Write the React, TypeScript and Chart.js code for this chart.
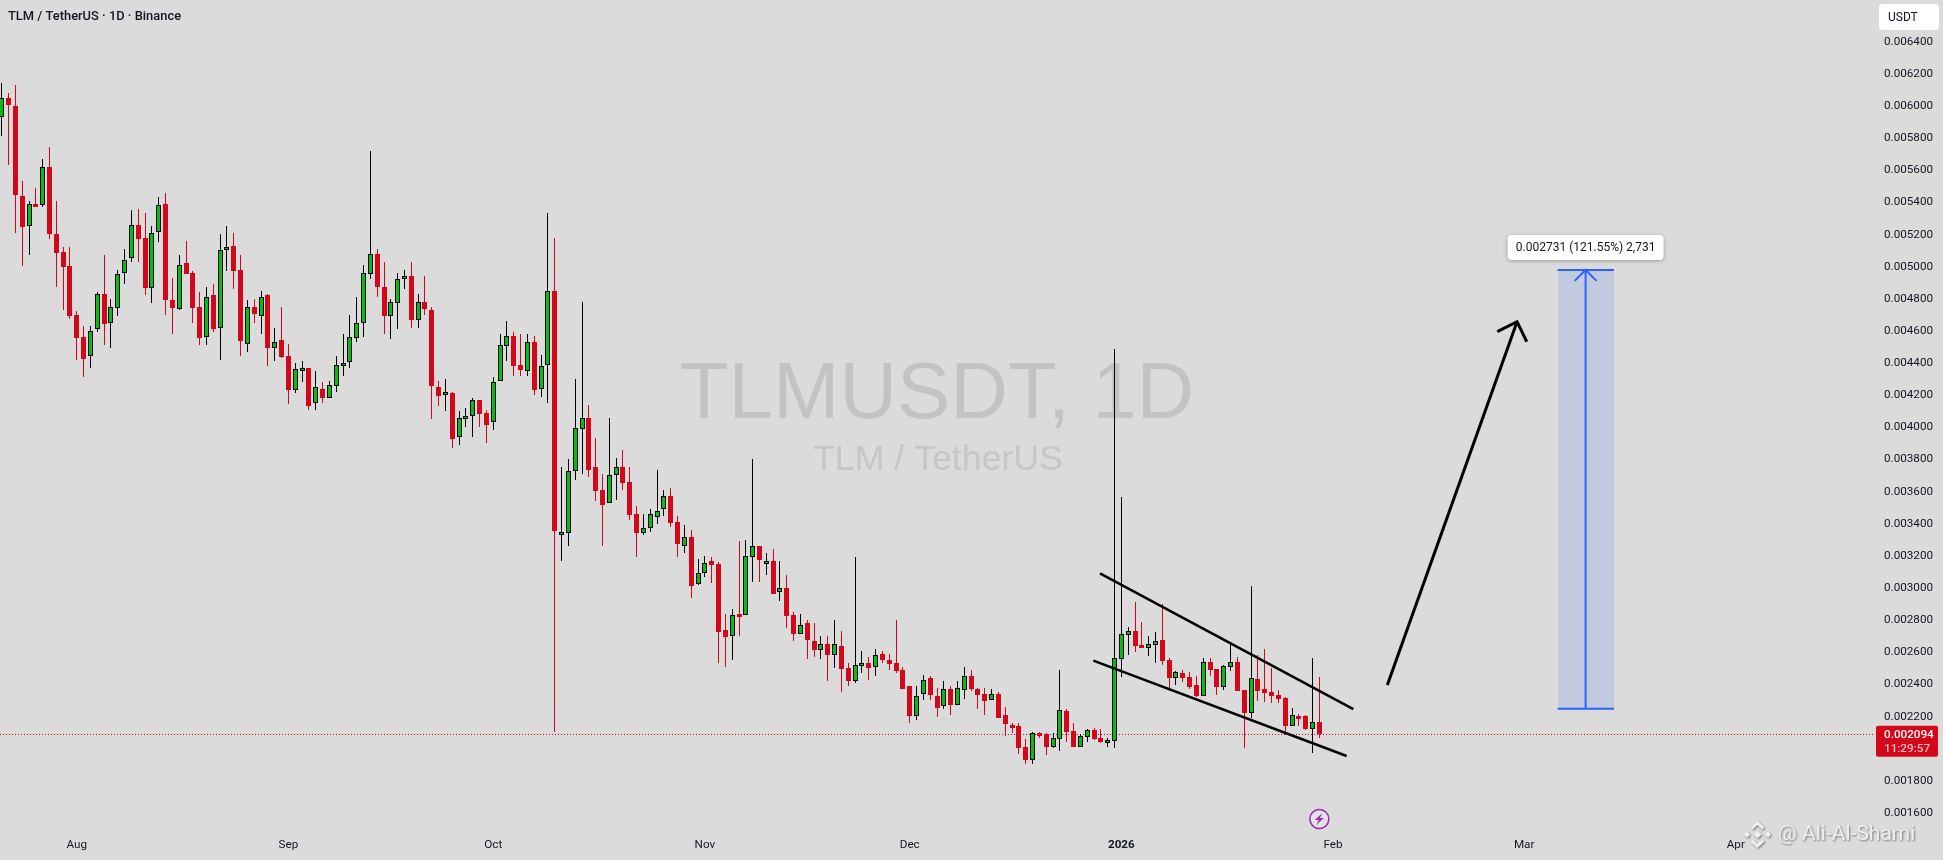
import React, { useEffect, useRef } from "react";
import { Chart, registerables } from "chart.js";

Chart.register(...registerables);

// All prices are in millionths of a USDT (0.002094 USDT = 2094).
const opens = [
  5930,6050,6001,5440,5252,5391,5386,5621,5204,5092,
  5005,4700,4563,4442,4610,4830,4648,4741,4959,5052,
  5260,5179,4870,5218,5391,4791,4739,5021,4959,4747,
  4561,4822,4617,5102,5129,4980,4517,4749,4695,4824,
  4492,4544,4444,4235,4359,4370,4151,4239,4185,4259,
  4384,4409,4558,4648,4952,5079,4874,4695,4772,4921,
  4942,4670,4780,4730,4251,4216,4212,3938,4056,4069,
  4170,4087,4031,4286,4508,4569,4388,4349,4531,4237,
  4386,4849,3342,3340,3726,3987,4058,3753,3610,3527,
  3701,3753,3660,3460,3344,3375,3444,3494,3572,3411,
  3263,3317,3027,3091,3168,3149,2739,2703,2838,2834,
  3195,3261,3162,3168,2977,3000,2832,2716,2782,2670,
  2616,2651,2585,2639,2502,2423,2516,2533,2506,2589,
  2552,2533,2490,2390,2205,2338,2440,2328,2268,2371,
  2274,2367,2452,2371,2340,2305,2340,2210,2147,2141,
  2010,1932,2100,2091,2010,2062,2232,2110,2012,2075,
  2116,2066,2037,2050,2560,2710,2733,2646,2629,2648,
  2677,2552,2443,2472,2447,2397,2330,2540,2496,2386,
  2511,2540,2366,2225,2434,2372,2353,2335,2316,2144,
  2206,2204,2121,2167,
];
const highs = [
  6142,6084,6131,5532,5407,5490,5671,5743,5409,5123,
  5123,4722,4631,4631,4841,5071,4797,4978,5108,5351,
  5359,5332,5252,5432,5457,4928,5071,5158,4973,4841,
  4872,4893,5204,5252,5210,5071,4791,4799,4847,4830,
  4619,4749,4519,4401,4413,4370,4349,4282,4286,4444,
  4581,4699,4811,5011,5720,5110,5029,4799,4959,4979,
  5029,4830,4942,4747,4289,4301,4220,4102,4118,4183,
  4170,4108,4313,4581,4662,4594,4581,4581,4569,4450,
  5334,5178,3753,3801,4299,4778,4137,3931,3709,4058,
  3809,3859,3753,3510,3458,3491,3738,3610,3622,3448,
  3392,3361,3180,3199,3193,3160,2838,2869,3293,3299,
  3801,3261,3218,3243,3168,3081,2851,2838,2801,2782,
  2701,2701,2801,2732,2533,3193,2608,2570,2620,2608,
  2589,2801,2508,2390,2390,2459,2452,2378,2421,2390,
  2421,2508,2490,2378,2378,2371,2353,2259,2160,2160,
  2060,2104,2104,2098,2098,2490,2247,2160,2089,2122,
  2129,2122,2066,4486,3567,2758,2914,2789,2702,2727,
  2901,2565,2484,2490,2478,2453,2565,2565,2496,2521,
  2652,2571,2366,3013,2584,2621,2503,2366,2322,2254,
  2216,2210,2565,2447,
];
const lows = [
  5814,5633,5212,5007,5073,5372,5374,5173,4876,4731,
  4675,4419,4316,4372,4596,4513,4496,4695,4895,5032,
  5032,4824,4776,5156,4700,4581,4733,4957,4650,4513,
  4513,4594,4419,4973,4861,4444,4469,4650,4581,4382,
  4413,4432,4146,4216,4285,4108,4108,4152,4185,4220,
  4320,4369,4531,4562,4923,4811,4581,4550,4612,4863,
  4618,4618,4699,4052,4135,4102,3873,3892,4004,3942,
  4004,3905,3986,4286,4415,4320,4320,4320,4201,4191,
  4152,2104,3170,3263,3674,3709,3693,3543,3263,3527,
  3550,3610,3425,3195,3330,3348,3398,3448,3381,3193,
  3220,2937,3020,3068,3031,2535,2508,2552,2701,2834,
  3039,3039,3081,2965,2919,2751,2670,2716,2558,2570,
  2558,2421,2502,2353,2390,2409,2471,2427,2452,2533,
  2490,2471,2371,2160,2178,2303,2303,2197,2247,2210,
  2274,2309,2359,2247,2210,2305,2191,2079,2098,1967,
  1905,1905,2066,1961,2004,1986,2042,2010,2012,2044,
  2054,2035,2010,2004,2446,2584,2602,2627,2577,2534,
  2521,2366,2397,2416,2372,2322,2330,2453,2335,2366,
  2484,2360,2005,2192,2297,2291,2285,2285,2086,2144,
  2142,2117,1974,2067,
];
const closes = [
  6048,6009,5449,5250,5389,5378,5619,5206,5088,5000,
  4695,4559,4428,4598,4828,4646,4747,4953,5040,5258,
  5175,4870,5208,5382,4795,4745,5009,4957,4745,4559,
  4810,4615,5102,5121,4976,4540,4747,4708,4810,4496,
  4529,4440,4235,4361,4368,4133,4250,4185,4262,4386,
  4398,4560,4648,4959,5077,4876,4695,4778,4921,4940,
  4670,4778,4739,4259,4197,4220,3930,4056,4069,4168,
  4085,4017,4280,4510,4567,4384,4357,4529,4232,4380,
  4847,3355,3348,3726,3999,4056,3736,3606,3518,3701,
  3751,3655,3456,3344,3371,3458,3477,3570,3406,3276,
  3315,3014,3091,3159,3145,2728,2697,2830,2828,3197,
  3259,3176,3168,2965,2998,2828,2716,2768,2676,2616,
  2649,2583,2649,2498,2423,2519,2531,2502,2581,2552,
  2527,2484,2371,2205,2326,2425,2334,2255,2369,2272,
  2376,2450,2371,2334,2297,2338,2191,2154,2135,2004,
  1929,2096,2091,2010,2064,2239,2104,2010,2077,2114,
  2058,2044,2052,2562,2712,2731,2640,2627,2650,2669,
  2546,2440,2476,2440,2384,2328,2538,2490,2384,2513,
  2538,2360,2223,2438,2360,2347,2328,2310,2142,2208,
  2200,2123,2164,2094,
];

const priceTicks = [
  1600,1800,2000,2200,2400,2600,2800,3000,3200,3400,3600,3800,4000,
  4200,4400,4600,4800,5000,5200,5400,5600,5800,6000,6200,6400,
];
const monthDays = [11, 42, 72, 103, 133, 164, 195, 223, 254];
const monthNames = ["Aug", "Sep", "Oct", "Nov", "Dec", "2026", "Feb", "Mar", "Apr"];

const lastPrice = 2094;
const upperChannel = [{ x: 160.87, y: 3092 }, { x: 197.98, y: 2247 }];
const lowerChannel = [{ x: 159.9, y: 2548 }, { x: 197.0, y: 1955 }];
const bigArrowShaft = [{ x: 202.96, y: 2397 }, { x: 221.96, y: 4658 }];
const bigArrowHead = [{ x: 219.07, y: 4596 }, { x: 221.96, y: 4658 }, { x: 223.38, y: 4533 }];
const targetTop = [{ x: 227.9, y: 4980 }, { x: 236.16, y: 4980 }];
const targetBottom = [{ x: 227.9, y: 2249 }, { x: 236.16, y: 2249 }];
const targetStem = [{ x: 232, y: 2249 }, { x: 232, y: 4980 }];
const targetHead = [{ x: 230.4, y: 4912 }, { x: 232, y: 4980 }, { x: 233.6, y: 4912 }];
const targetLabel = "0.002731 (121.55%) 2,731";

const BG = "#dbdbdb";
const UP = "#05be10";
const DOWN = "#d2081a";
const BLUE = "#2962ff";
const INK = "#131722";
const FONT = "Roboto, 'Liberation Sans', sans-serif";

const isUp = (i: number) => closes[i] >= opens[i];

const roundBox = (ctx: any, x: number, y: number, w: number, h: number, r: number) => {
  ctx.beginPath();
  ctx.roundRect(x, y, w, h, r);
};

const diamond = (ctx: any, cx: number, cy: number, r: number) => {
  ctx.beginPath();
  ctx.moveTo(cx, cy - r);
  ctx.lineTo(cx + r, cy);
  ctx.lineTo(cx, cy + r);
  ctx.lineTo(cx - r, cy);
  ctx.closePath();
  ctx.fill();
};

const overlay = {
  id: "overlay",
  beforeDraw(chart: any) {
    const { ctx, width, height } = chart;
    ctx.save();
    ctx.fillStyle = BG;
    ctx.fillRect(0, 0, width, height);
    ctx.restore();
  },
  afterDatasetsUpdate(chart: any) {
    chart.data.datasets.forEach((ds: any, idx: number) => {
      if (ds.label !== "Body" && ds.label !== "Wick") return;
      chart.getDatasetMeta(idx).data.forEach((el: any) => {
        el.x = Math.floor(el.x) + 0.5;
        el.y = Math.round(el.y);
        el.base = Math.round(el.base);
        if (ds.label === "Body" && Math.abs(el.base - el.y) < 3) el.base = el.y + 3;
      });
    });
  },
  beforeDatasetsDraw(chart: any) {
    const { ctx, scales, chartArea } = chart;
    ctx.save();
    ctx.textAlign = "center";
    ctx.textBaseline = "alphabetic";
    ctx.fillStyle = "#c3c3c5";
    ctx.font = "79.8px 'Liberation Sans', Arial, sans-serif";
    ctx.fillText("TLMUSDT, 1D", 937, 418);
    ctx.font = "35.7px 'Liberation Sans', Arial, sans-serif";
    ctx.fillStyle = "#c6c6c8";
    ctx.fillText("TLM / TetherUS", 938, 470);

    const y = Math.round(scales.y.getPixelForValue(lastPrice)) + 0.5;
    ctx.strokeStyle = DOWN;
    ctx.lineWidth = 1;
    ctx.setLineDash([1, 2]);
    ctx.beginPath();
    ctx.moveTo(chartArea.left, y);
    ctx.lineTo(chartArea.right, y);
    ctx.stroke();
    ctx.restore();
  },
  afterDatasetsDraw(chart: any) {
    const { ctx, scales } = chart;
    ctx.save();
    ctx.textBaseline = "middle";

    // Header
    ctx.fillStyle = INK;
    ctx.textAlign = "left";
    ctx.font = `500 12.9px ${FONT}`;
    ctx.fillText("TLM / TetherUS · 1D · Binance", 8, 16.5);

    // Measure label
    const cx = scales.x.getPixelForValue(232);
    const top = scales.y.getPixelForValue(4980);
    ctx.save();
    ctx.shadowColor = "rgba(0,0,0,0.3)";
    ctx.shadowBlur = 4;
    ctx.shadowOffsetY = 1;
    ctx.fillStyle = "#ffffff";
    roundBox(ctx, cx - 78, top - 35, 156, 25, 4);
    ctx.fill();
    ctx.restore();
    ctx.fillStyle = INK;
    ctx.textAlign = "center";
    ctx.font = `12px ${FONT}`;
    ctx.fillText(targetLabel, cx, top - 22);

    // Currency box
    ctx.fillStyle = "#ffffff";
    roundBox(ctx, 1879, 4, 60, 26, 4);
    ctx.fill();
    ctx.fillStyle = INK;
    ctx.textAlign = "left";
    ctx.font = `12px ${FONT}`;
    ctx.fillText("USDT", 1888, 18);

    // Last price tag
    const py = scales.y.getPixelForValue(lastPrice);
    ctx.fillStyle = DOWN;
    roundBox(ctx, 1876, py - 8, 62, 31, 2);
    ctx.fill();
    ctx.fillStyle = "#ffffff";
    ctx.font = `500 11.7px ${FONT}`;
    ctx.fillText("0.002094", 1884, py + 1.5);
    ctx.fillStyle = "rgba(255,255,255,0.72)";
    ctx.font = `500 11.7px ${FONT}`;
    ctx.fillText("11:29:57", 1884, py + 15.5);

    // Purple lightning badge
    const bx = scales.x.getPixelForValue(193);
    const by = 819;
    ctx.strokeStyle = "#9c27b0";
    ctx.lineWidth = 1.5;
    ctx.fillStyle = "#e6e0e8";
    ctx.beginPath();
    ctx.arc(bx, by, 9.5, 0, Math.PI * 2);
    ctx.fill();
    ctx.stroke();
    ctx.fillStyle = "#9c27b0";
    ctx.beginPath();
    ctx.moveTo(bx + 3, by - 6);
    ctx.lineTo(bx - 4.5, by + 1);
    ctx.lineTo(bx - 0.5, by + 1);
    ctx.lineTo(bx - 3, by + 6);
    ctx.lineTo(bx + 4.5, by - 1);
    ctx.lineTo(bx + 0.5, by - 1);
    ctx.closePath();
    ctx.fill();

    // Author mark
    ctx.save();
    ctx.shadowColor = "rgba(0,0,0,0.45)";
    ctx.shadowBlur = 2;
    ctx.shadowOffsetX = 1;
    ctx.shadowOffsetY = 1;
    ctx.fillStyle = "#efefef";
    const lx = 1757.5;
    const ly = 834.5;
    diamond(ctx, lx, ly, 4);
    diamond(ctx, lx - 10.5, ly, 3.2);
    diamond(ctx, lx + 10.5, ly, 3.2);
    ctx.strokeStyle = "#efefef";
    ctx.lineWidth = 3;
    ctx.beginPath();
    ctx.moveTo(lx - 6, ly - 6);
    ctx.lineTo(lx, ly - 11.5);
    ctx.lineTo(lx + 6, ly - 6);
    ctx.moveTo(lx - 6, ly + 6);
    ctx.lineTo(lx, ly + 11.5);
    ctx.lineTo(lx + 6, ly + 6);
    ctx.stroke();
    ctx.font = `21px ${FONT}`;
    ctx.textAlign = "left";
    ctx.fillText("@ Ali-Al-Shami", 1778, 834.5);
    ctx.restore();

    ctx.restore();
  },
};

const lineSet = (label: string, data: any[], color: string, width: number, extra: any = {}) => ({
  type: "line",
  label,
  data,
  borderColor: color,
  borderWidth: width,
  pointRadius: 0,
  fill: false,
  ...extra,
});

const clearAxisPadding = (scale: any) => {
  scale.paddingTop = 0;
  scale.paddingBottom = 0;
  scale.paddingLeft = 0;
  scale.paddingRight = 0;
};

export default function App() {
  const ref = useRef<HTMLCanvasElement>(null);

  useEffect(() => {
    const candleIndex = opens.map((_, i) => i);
    const chart = new Chart(ref.current as any, {
      type: "bar",
      data: {
        datasets: [
          lineSet("Upper channel", upperChannel, "#000000", 2.5),
          lineSet("Lower channel", lowerChannel, "#000000", 2.5),
          lineSet("Arrow shaft", bigArrowShaft, "#000000", 3),
          lineSet("Arrow head", bigArrowHead, "#000000", 3),
          lineSet("Target top", targetTop, BLUE, 2),
          lineSet("Target bottom", targetBottom, BLUE, 2),
          lineSet("Target stem", targetStem, BLUE, 2),
          lineSet("Target head", targetHead, BLUE, 2),
          lineSet("Target box", targetTop, "rgba(0,0,0,0)", 0, {
            fill: { value: targetBottom[0].y },
            backgroundColor: "rgba(41,98,255,0.14)",
          }),
          {
            label: "Body",
            data: candleIndex.map((i) => ({ x: i, y: [opens[i], closes[i]] })),
            backgroundColor: candleIndex.map((i) => (isUp(i) ? UP : DOWN)),
            borderColor: candleIndex.map((i) => (isUp(i) ? "#000000" : DOWN)),
            borderWidth: 1,
            borderSkipped: false,
            inflateAmount: 0,
            grouped: false,
            barPercentage: 1,
            categoryPercentage: 1,
            maxBarThickness: 5,
          },
          {
            label: "Wick",
            data: candleIndex.map((i) => ({ x: i, y: [lows[i], highs[i]] })),
            backgroundColor: candleIndex.map((i) => (isUp(i) ? "#000000" : DOWN)),
            borderWidth: 0,
            borderSkipped: false,
            inflateAmount: 0,
            grouped: false,
            barPercentage: 1,
            categoryPercentage: 1,
            maxBarThickness: 1,
          },
        ] as any,
      },
      options: {
        animation: false,
        responsive: false,
        devicePixelRatio: 1,
        layout: { padding: 0 },
        events: [],
        plugins: {
          legend: { display: false },
          tooltip: { enabled: false },
          title: { display: false },
        },
        scales: {
          x: {
            type: "linear",
            min: -0.249,
            max: 274.39,
            offset: false,
            grid: { display: false, drawTicks: false },
            border: { display: false },
            afterBuildTicks: (scale: any) => {
              scale.ticks = monthDays.map((value) => ({ value }));
            },
            afterFit: (scale: any) => {
              scale.height = 28;
              clearAxisPadding(scale);
            },
            ticks: {
              autoSkip: false,
              maxRotation: 0,
              minRotation: 0,
              padding: 6,
              color: INK,
              callback: (v: any) => monthNames[monthDays.indexOf(v)] ?? "",
              font: (ctx: any) => ({
                family: FONT,
                size: 11.7,
                weight: ctx.tick && ctx.tick.value === 164 ? "bold" : "normal",
              }),
            },
          },
          y: {
            type: "linear",
            position: "right",
            min: 1481.8,
            max: 6660.2,
            beginAtZero: false,
            grid: { display: false, drawTicks: false },
            border: { display: false },
            afterBuildTicks: (scale: any) => {
              scale.ticks = priceTicks.map((value) => ({ value }));
            },
            afterFit: (scale: any) => {
              scale.width = 68;
              clearAxisPadding(scale);
            },
            ticks: {
              autoSkip: false,
              padding: 9,
              color: INK,
              font: { family: FONT, size: 11.7 },
              callback: (v: any) => (Number(v) / 1e6).toFixed(6),
            },
          },
        },
      } as any,
      plugins: [overlay as any],
    });
    return () => chart.destroy();
  }, []);

  return (
    <div style={{ position: "fixed", left: 0, top: 0, width: 1943, height: 860, background: BG }}>
      <canvas ref={ref} width={1943} height={860} style={{ display: "block" }} />
    </div>
  );
}
